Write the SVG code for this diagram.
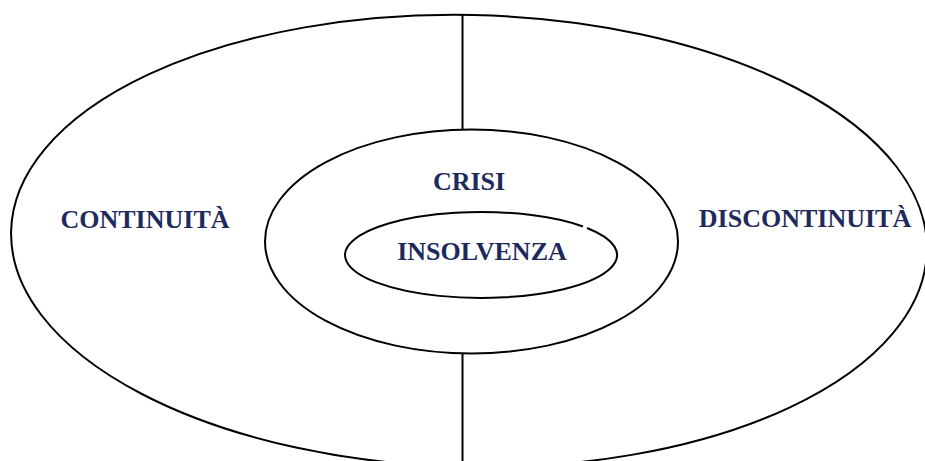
<svg xmlns="http://www.w3.org/2000/svg" width="925" height="461" viewBox="0 0 925 461">
<style>
.shape{fill:none;stroke:#000;stroke-width:2}
.lbl{font-family:"Liberation Serif","Times New Roman",serif;font-weight:bold;font-size:26px;fill:#1f2a5c}
</style>
<rect width="925" height="461" fill="#fff"/>
<g id="outer">
<ellipse class="shape" cx="469" cy="241" rx="458" ry="226" transform="rotate(1.2 469 241)"/>
<text class="lbl" x="145" y="228" text-anchor="middle">CONTINUITÀ</text>
<text class="lbl" x="805" y="227" text-anchor="middle">DISCONTINUITÀ</text>
</g>
<g id="connectors">
<line class="shape" x1="462.5" y1="15" x2="462.5" y2="130"/>
<line class="shape" x1="462.5" y1="353" x2="462.5" y2="461"/>
</g>
<g id="crisi">
<ellipse class="shape" cx="471.5" cy="241.5" rx="206.5" ry="112"/>
<text class="lbl" x="469" y="190" text-anchor="middle">CRISI</text>
</g>
<g id="insolvenza">
<path class="shape" d="M 587 228 A 136 43 0 1 1 583 226.5"/>
<text class="lbl" x="482" y="260" text-anchor="middle">INSOLVENZA</text>
</g>
</svg>
